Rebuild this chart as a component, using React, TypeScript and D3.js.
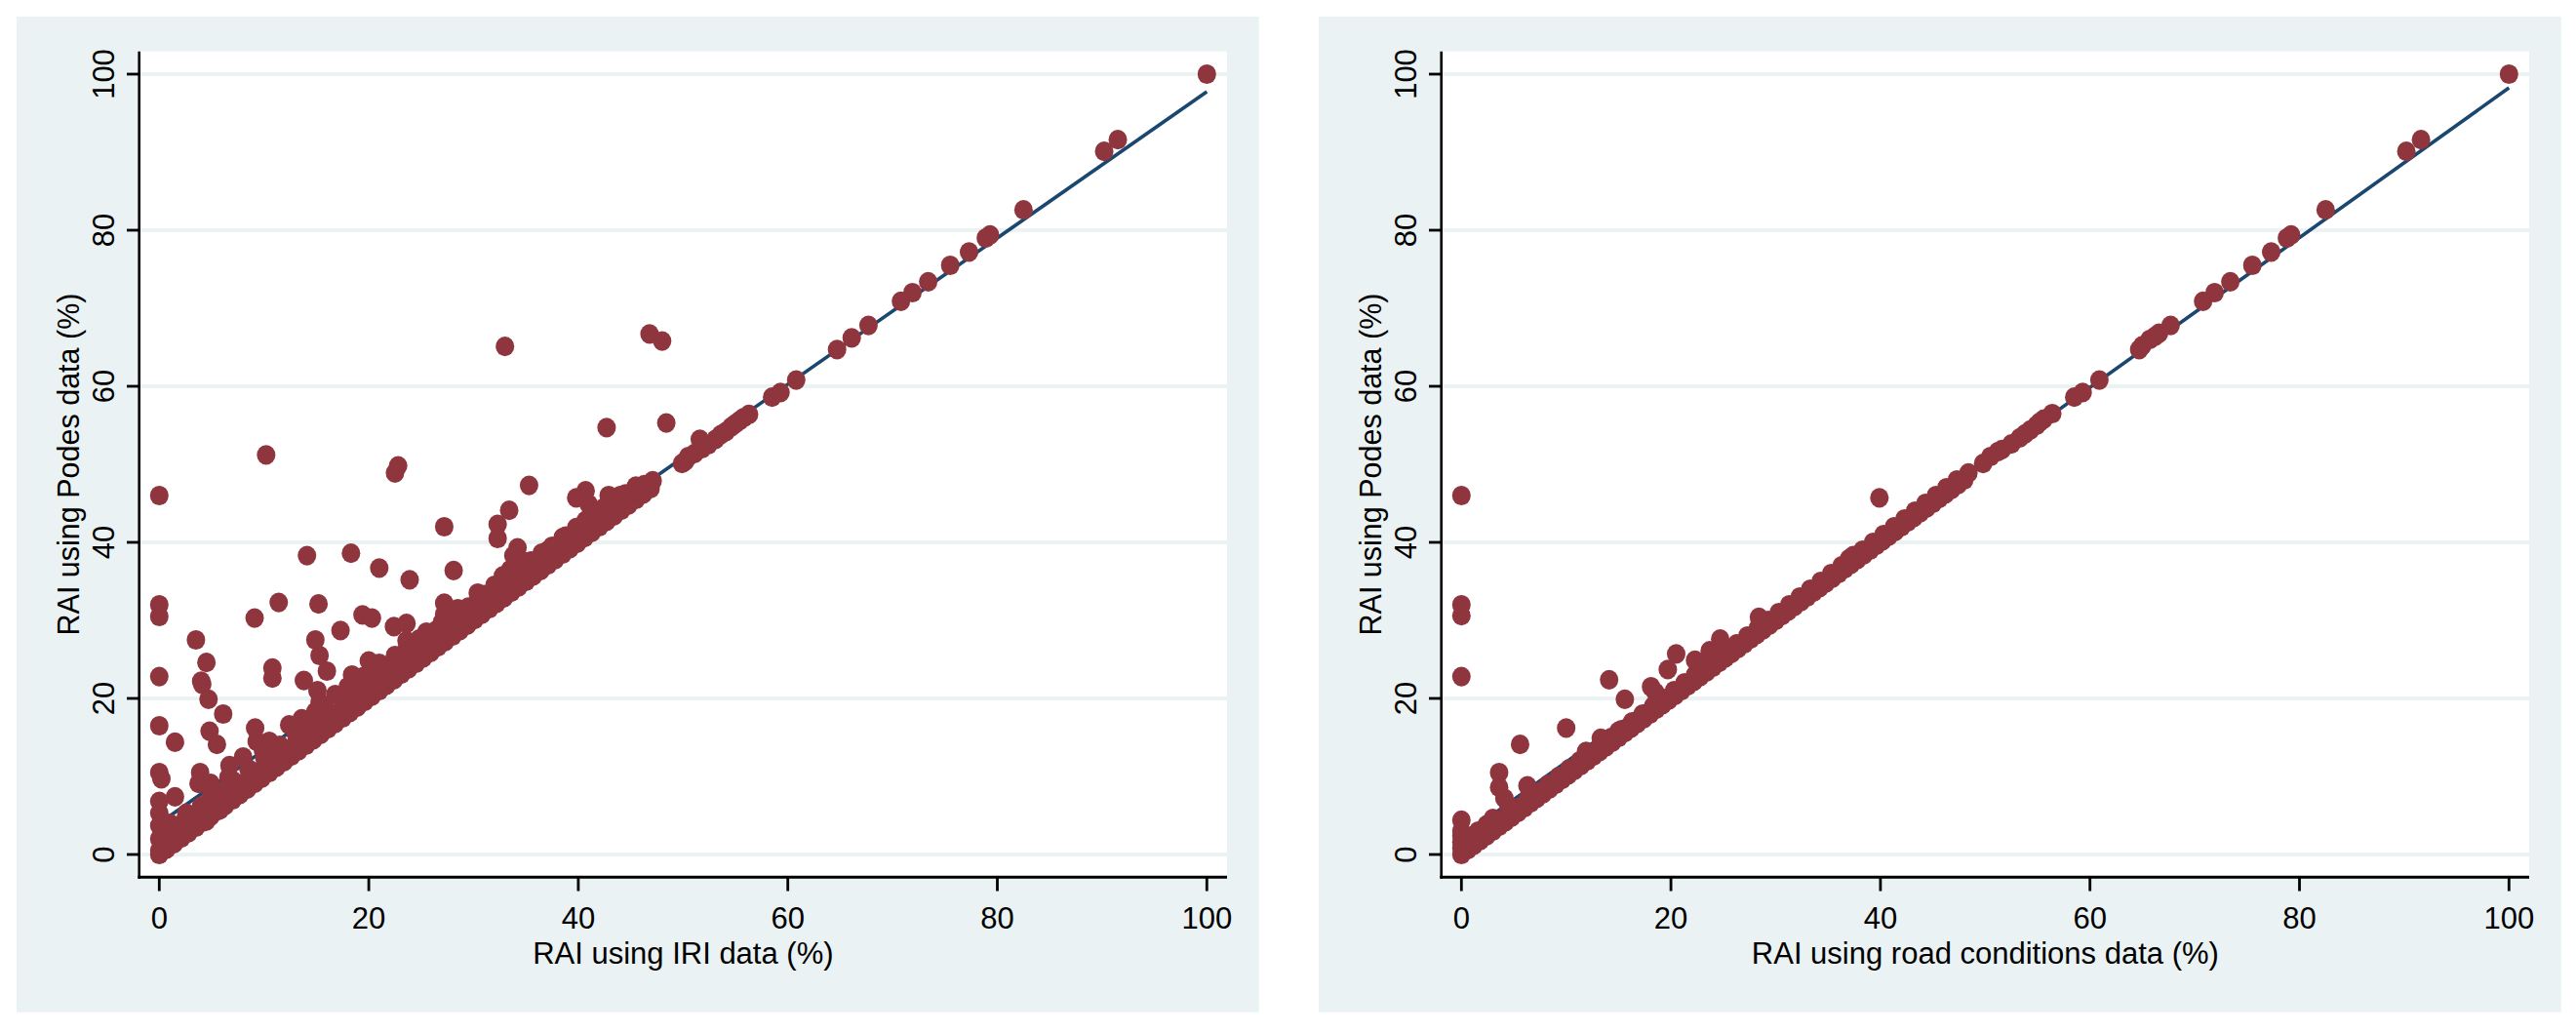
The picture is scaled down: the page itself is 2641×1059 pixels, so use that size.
import React from "react";
import * as d3 from "d3";

// ---------- DATA ----------
const yTicks = [0, 20, 40, 60, 80, 100];
const xTicks = [0, 20, 40, 60, 80, 100];
const yTitle = "RAI using Podes data (%)";
const leftXTitle = "RAI using IRI data (%)";
const rightXTitle = "RAI using road conditions data (%)";

// Left panel: IRI vs Podes
const leftHigh: [number, number][] = [
  [100, 100], [90.2, 90.1], [91.5, 91.6], [82.5, 82.6], [78.9, 79.0], [79.3, 79.4], [77.3, 77.2],
  [75.5, 75.5], [73.4, 73.4], [71.9, 72.0], [70.8, 70.9], [67.7, 67.8], [66.1, 66.2], [64.7, 64.7],
  [60.8, 60.8], [59.3, 59.2], [58.5, 58.6], [56.3, 56.4], [55.8, 56.0], [55.4, 55.6], [55.0, 55.2],
  [54.6, 54.8], [54.1, 54.2], [53.6, 53.8], [53.1, 53.2], [52.4, 52.5], [51.8, 52.0], [51.6, 53.2],
  [51.1, 51.4], [50.5, 51.0], [50.2, 50.4], [49.9, 50.1],
];

const leftOutliers: [number, number][] = [
  [33.0, 65.1], [46.8, 66.7], [48.0, 65.8], [10.2, 51.2], [22.8, 49.8], [22.5, 48.9], [42.7, 54.7],
  [48.4, 55.3], [0, 46.0], [35.3, 47.3], [39.8, 45.7], [40.7, 46.6], [41.0, 44.9], [42.9, 46.0],
  [44.2, 46.0], [27.2, 42.0], [32.3, 42.3], [32.3, 40.5], [33.4, 44.1], [34.2, 39.3], [33.8, 38.3],
  [14.1, 38.3], [18.3, 38.6], [21.0, 36.7], [28.1, 36.4], [23.9, 35.2], [32.8, 35.7], [30.4, 33.5],
  [29.4, 31.0], [29.2, 31.0], [27.2, 32.2], [27.2, 30.8], [0, 32.0], [0, 30.5], [11.4, 32.3],
  [15.2, 32.1], [9.1, 30.3], [19.4, 30.7], [20.3, 30.3], [17.3, 28.7], [22.4, 29.2], [23.6, 29.6],
  [23.6, 27.4], [24.4, 26.6], [24.8, 27.6], [3.5, 27.5], [14.9, 27.5], [15.3, 25.5], [16.0, 23.5],
  [4.5, 24.6], [20.0, 24.8], [0, 22.8], [4.0, 22.2], [4.1, 21.8], [10.8, 23.9], [10.8, 22.6],
  [13.8, 22.3], [18.4, 23.0], [18.6, 21.8], [15.1, 21.0], [15.3, 19.5], [4.7, 19.9], [6.1, 18.0],
  [0, 16.5], [9.15, 16.2], [9.3, 14.5], [9.9, 13.3], [4.8, 15.8], [5.5, 14.1], [1.5, 14.4],
  [0, 10.5], [0.2, 9.7], [3.9, 10.5], [3.75, 9.1], [6.7, 11.4], [6.6, 9.9], [6.6, 8.7], [4.9, 9.1],
  [4.9, 7.4], [5.8, 5.75], [1.5, 7.4], [0, 6.8], [0, 5.3], [0, 3.7], [0, 2.0], [0, 0.5], [2.6, 5.3],
  [4.5, 4.3], [4.1, 5.75], [46.3, 47.4], [47.1, 47.9], [0.5, 1.5], [1.0, 2.5], [1.5, 3.0],
  [2.0, 3.5], [1.0, 4.0], [2.0, 2.5], [3.0, 4.0], [3.5, 4.5], [0.7, 3.2],
];

const leftBandA: [number, number][] = [
  [0, 0], [0.7, 0.7], [1.4, 1.4], [2.1, 2.1], [2.8, 2.8], [3.5, 3.5], [4.2, 4.2], [4.9, 4.9],
  [5.6, 5.6], [6.3, 6.3], [7, 7], [7.7, 7.7], [8.4, 8.4], [9.1, 9.1], [9.8, 9.8], [10.5, 10.5],
  [11.2, 11.2], [11.9, 11.9], [12.6, 12.6], [13.3, 13.3], [14, 14], [14.7, 14.7], [15.4, 15.4],
  [16.1, 16.1], [16.8, 16.8], [17.5, 17.5], [18.2, 18.2], [18.9, 18.9], [19.6, 19.6], [20.3, 20.3],
  [21, 21], [21.7, 21.7], [22.4, 22.4], [23.1, 23.1], [23.8, 23.8], [24.5, 24.5], [25.2, 25.2],
  [25.9, 25.9], [26.6, 26.6], [27.3, 27.3], [28, 28], [28.7, 28.7], [29.4, 29.4], [30.1, 30.1],
  [30.8, 30.8], [31.5, 31.5], [32.2, 32.2], [32.9, 32.9], [33.6, 33.6], [34.3, 34.3], [35, 35],
  [35.7, 35.7], [36.4, 36.4], [37.1, 37.1], [37.8, 37.8], [38.5, 38.5], [39.2, 39.2], [39.9, 39.9],
  [40.6, 40.6], [41.3, 41.3], [42, 42], [42.7, 42.7], [43.4, 43.4], [44.1, 44.1], [44.8, 44.8],
  [45.5, 45.5], [46.2, 46.2], [46.9, 46.9],
];

const leftBandB: [number, number][] = [
  [0.4, 1.6], [1.3, 2.5], [2.2, 3.4], [3.1, 4.3], [4.0, 5.2], [4.9, 6.1], [5.8, 7.0], [6.7, 7.9],
  [7.6, 8.8], [8.5, 9.7], [9.4, 10.6], [10.3, 11.5], [11.2, 12.4], [12.1, 13.3], [13.0, 14.2],
  [13.9, 15.1], [14.8, 16.0], [15.7, 16.9], [16.6, 17.8], [17.5, 18.7], [18.4, 19.6], [19.3, 20.5],
  [20.2, 21.4], [21.1, 22.3], [22.0, 23.2], [22.9, 24.1], [23.8, 25.0], [24.7, 25.9], [25.6, 26.8],
  [26.5, 27.7], [27.4, 28.6], [28.3, 29.5], [29.2, 30.4], [30.1, 31.3], [31.0, 32.2], [31.9, 33.1],
  [32.8, 34.0], [33.7, 34.9], [34.6, 35.8], [35.5, 36.7], [36.4, 37.6], [37.3, 38.5], [38.2, 39.4],
  [39.1, 40.3], [40.0, 41.2], [40.9, 42.1], [41.8, 43.0], [42.7, 43.9], [43.6, 44.8], [44.5, 45.7],
  [45.4, 46.6], [46.3, 47.1],
];

const leftBandC: [number, number][] = [
  [2.5, 4.6], [4.0, 6.2], [5.5, 7.9], [7.0, 9.5], [8.5, 11.0], [10.0, 12.5], [11.5, 14.0],
  [13.0, 15.6], [14.5, 17.0], [16.0, 18.5], [17.5, 20.0], [19.0, 21.5], [20.5, 23.0], [22.0, 24.3],
  [23.5, 26.0], [25.0, 27.3], [26.5, 28.8], [28.0, 30.3], [29.5, 31.7], [31.0, 33.3], [32.5, 34.7],
  [34.0, 36.3], [35.5, 37.6], [37.0, 38.9], [38.5, 40.6], [40.0, 41.9], [41.5, 43.4], [43.0, 44.9],
  [44.5, 46.2],
];

const leftBandD: [number, number][] = [
  [8.0, 12.5], [10.5, 14.5], [12.4, 16.6], [13.6, 17.4], [14.9, 18.3], [16.8, 20.5], [18.0, 21.5],
  [19.5, 22.8], [21.0, 24.5], [22.5, 25.5], [24.0, 27.0], [25.5, 28.5], [27.0, 29.8], [28.5, 31.5],
  [30.5, 33.0], [32.0, 34.5], [33.5, 36.5], [35.0, 37.5], [36.5, 38.6], [37.5, 39.5], [38.8, 40.8],
  [39.8, 41.9], [40.7, 42.8], [42.5, 44.5], [44.0, 46.0], [45.5, 47.2],
];

const leftFit: [number, number][] = [[0, 4.0], [100, 97.75]];

// Right panel: road conditions vs Podes
const rightHigh: [number, number][] = [
  [100, 100], [90.2, 90.1], [91.6, 91.6], [82.5, 82.6], [78.8, 79.0], [79.2, 79.4], [77.3, 77.2],
  [75.5, 75.5], [73.4, 73.4], [71.9, 72.0], [70.8, 70.9], [67.7, 67.8], [66.6, 66.8], [66.2, 66.4],
  [65.7, 66.0], [65.0, 65.2], [64.7, 64.7], [60.9, 60.8], [59.3, 59.2], [58.5, 58.6], [56.4, 56.5],
  [55.6, 55.8], [55.2, 55.4], [54.9, 55.0], [54.3, 54.4], [53.8, 53.9], [53.3, 53.4], [52.5, 52.6],
  [51.6, 51.9], [51.2, 51.6], [50.5, 51.0], [49.8, 50.1], [48.4, 48.9],
];

const rightOutliers: [number, number][] = [
  [39.9, 45.7], [0, 46.0], [37.4, 38.3], [37.0, 37.9], [28.4, 30.4], [0, 32.0], [0, 30.6],
  [24.7, 27.6], [20.5, 25.7], [19.7, 23.7], [23.7, 26.1], [22.3, 24.9], [0, 22.8], [14.1, 22.4],
  [15.6, 19.9], [18.1, 21.5], [18.5, 20.8], [10.0, 16.2], [5.6, 14.1], [13.3, 14.9], [11.9, 13.2],
  [15.0, 15.8], [3.6, 10.5], [3.6, 8.6], [4.1, 7.2], [6.3, 8.8], [0, 4.4], [2.4, 3.8], [1.6, 3.0],
  [3.0, 4.6], [4.5, 6.2], [0, 0.8], [0, 1.6], [0, 2.4], [0, 3.0], [0.6, 1.8], [1.2, 2.4],
];

const rightBandA: [number, number][] = [
  [0, 0], [0.6, 0.6], [1.2, 1.2], [1.8, 1.8], [2.4, 2.4], [3, 3], [3.6, 3.6], [4.2, 4.2], [4.8, 4.8],
  [5.4, 5.4], [6, 6], [6.6, 6.6], [7.2, 7.2], [7.8, 7.8], [8.4, 8.4], [9, 9], [9.6, 9.6], [10.2, 10.2],
  [10.8, 10.8], [11.4, 11.4], [12, 12], [12.6, 12.6], [13.2, 13.2], [13.8, 13.8], [14.4, 14.4],
  [15, 15], [15.6, 15.6], [16.2, 16.2], [16.8, 16.8], [17.4, 17.4], [18, 18], [18.6, 18.6],
  [19.2, 19.2], [19.8, 19.8], [20.4, 20.4], [21, 21], [21.6, 21.6], [22.2, 22.2], [22.8, 22.8],
  [23.4, 23.4], [24, 24], [24.6, 24.6], [25.2, 25.2], [25.8, 25.8], [26.4, 26.4], [27, 27],
  [27.6, 27.6], [28.2, 28.2], [28.8, 28.8], [29.4, 29.4], [30, 30], [30.6, 30.6], [31.2, 31.2],
  [31.8, 31.8], [32.4, 32.4], [33, 33], [33.6, 33.6], [34.2, 34.2], [34.8, 34.8], [35.4, 35.4],
  [36, 36], [36.6, 36.6], [37.2, 37.2], [37.8, 37.8], [38.4, 38.4], [39, 39], [39.6, 39.6],
  [40.2, 40.2], [40.8, 40.8], [41.4, 41.4], [42, 42], [42.6, 42.6], [43.2, 43.2], [43.8, 43.8],
  [44.4, 44.4], [45, 45], [45.6, 45.6], [46.2, 46.2], [46.8, 46.8], [47.4, 47.4], [48, 48],
];

const rightBandB: [number, number][] = [
  [0.3, 1.0], [1.3, 2.0], [2.3, 3.0], [3.3, 4.0], [4.3, 5.0], [5.3, 6.0], [6.3, 7.0], [7.3, 8.0],
  [8.3, 9.0], [9.3, 10.0], [10.3, 11.0], [11.3, 12.0], [12.3, 13.0], [13.3, 14.0], [14.3, 15.0],
  [15.3, 16.0], [16.3, 17.0], [17.3, 18.0], [18.3, 19.0], [19.3, 20.0], [20.3, 21.0], [21.3, 22.0],
  [22.3, 23.0], [23.3, 24.0], [24.3, 25.0], [25.3, 26.0], [26.3, 27.0], [27.3, 28.0], [28.3, 29.0],
  [29.3, 30.0], [30.3, 31.0], [31.3, 32.0], [32.3, 33.0], [33.3, 34.0], [34.3, 35.0], [35.3, 36.0],
  [36.3, 37.0], [37.3, 38.0], [38.3, 39.0], [39.3, 40.0], [40.3, 41.0], [41.3, 42.0], [42.3, 43.0],
  [43.3, 44.0], [44.3, 45.0], [45.3, 46.0], [46.3, 47.0], [47.3, 48.0],
];

const rightFit: [number, number][] = [[0, 2.25], [100, 98.25]];

// ---------- STYLE ----------
const BG = "#eaf2f3";
const MARKER = "#8f353d";
const FIT = "#1a476f";
const FONT = "'Liberation Sans', Arial, Helvetica, sans-serif";

type PanelProps = {
  dx: number;
  points: [number, number][];
  fit: [number, number][];
  xTitle: string;
};

function Panel({ dx, points, fit, xTitle }: PanelProps) {
  const plotLeft = 142.7;
  const plotTop = 52.7;
  const plotRight = 1258;
  const plotBottom = 899.3;
  const x = d3.scaleLinear().domain([0, 100]).range([163.3, 1237.3]);
  const y = d3.scaleLinear().domain([0, 100]).range([876, 76]);
  const line = d3
    .line<[number, number]>()
    .x((d) => x(d[0]))
    .y((d) => y(d[1]));
  const cx = (plotLeft + plotRight) / 2;
  const cy = (plotTop + plotBottom) / 2;
  return (
    <g transform={`translate(${dx},0)`}>
      <rect x={17} y={17} width={1273.7} height={1020.7} fill={BG} />
      <rect x={plotLeft} y={plotTop} width={plotRight - plotLeft} height={plotBottom - plotTop} fill="#ffffff" />
      {yTicks.map((t) => (
        <line key={"g" + t} x1={plotLeft + 1} x2={plotRight} y1={y(t)} y2={y(t)} stroke={BG} strokeWidth={4} />
      ))}
      <path d={line(fit) || ""} fill="none" stroke={FIT} strokeWidth={3.6} />
      {points.map((p, i) => (
        <ellipse key={i} cx={x(p[0])} cy={y(p[1])} rx={9.5} ry={10.1} fill={MARKER} />
      ))}
      {/* axes */}
      <line x1={plotLeft} x2={plotLeft} y1={plotTop} y2={plotBottom + 1.5} stroke="#000" strokeWidth={2.6} />
      <line x1={plotLeft - 1.3} x2={plotRight} y1={plotBottom} y2={plotBottom} stroke="#000" strokeWidth={3} />
      {yTicks.map((t) => (
        <g key={"yt" + t}>
          <line x1={130} x2={plotLeft} y1={y(t)} y2={y(t)} stroke="#000" strokeWidth={2.8} />
          <text
            transform={`translate(117,${y(t)}) rotate(-90)`}
            textAnchor="middle"
            fontFamily={FONT}
            fontSize={31}
            fill="#000"
          >
            {t}
          </text>
        </g>
      ))}
      {xTicks.map((t) => (
        <g key={"xt" + t}>
          <line x1={x(t)} x2={x(t)} y1={plotBottom} y2={913.5} stroke="#000" strokeWidth={2.8} />
          <text x={x(t)} y={952} textAnchor="middle" fontFamily={FONT} fontSize={31} fill="#000">
            {t}
          </text>
        </g>
      ))}
      <text
        transform={`translate(81,${cy}) rotate(-90)`}
        textAnchor="middle"
        fontFamily={FONT}
        fontSize={30.5}
        fill="#000"
      >
        {yTitle}
      </text>
      <text x={cx} y={987.5} textAnchor="middle" fontFamily={FONT} fontSize={31} fill="#000">
        {xTitle}
      </text>
    </g>
  );
}

export default function App() {
  const leftPoints = [...leftBandA, ...leftBandB, ...leftBandC, ...leftBandD, ...leftOutliers, ...leftHigh];
  const rightPoints = [...rightBandA, ...rightBandB, ...rightOutliers, ...rightHigh];
  return (
    <svg
      width={2641}
      height={1059}
      viewBox="0 0 2641 1059"
      style={{ position: "absolute", left: 0, top: 0, background: "#ffffff" }}
    >
      <rect x={0} y={0} width={2641} height={1059} fill="#ffffff" />
      <Panel dx={0} points={leftPoints} fit={leftFit} xTitle={leftXTitle} />
      <Panel dx={1335} points={rightPoints} fit={rightFit} xTitle={rightXTitle} />
    </svg>
  );
}
